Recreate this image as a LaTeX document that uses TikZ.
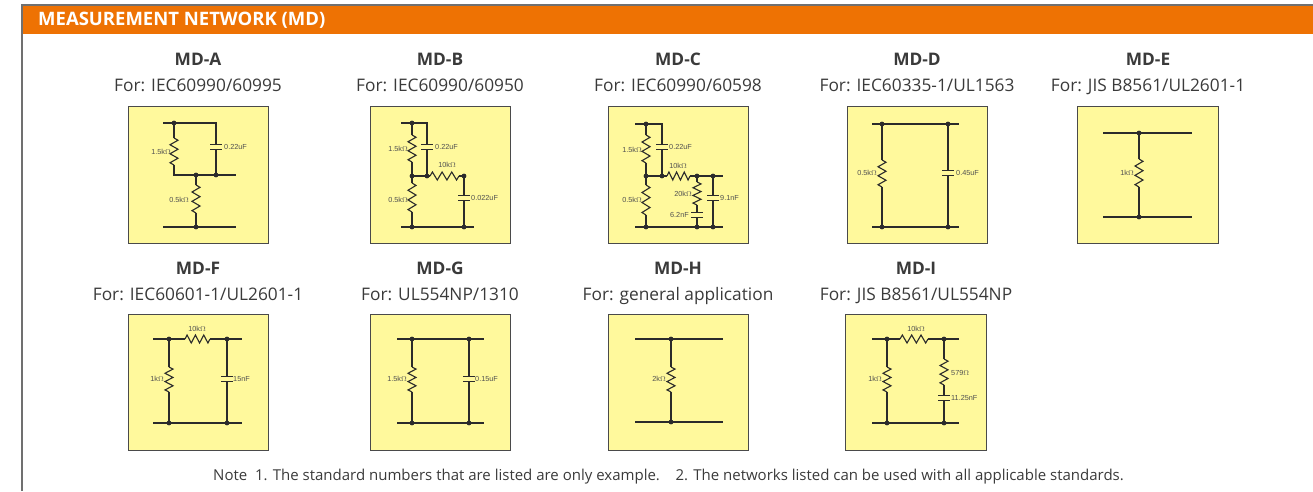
\documentclass[tikz,border=0pt]{standalone}
\usepackage{fontspec}
\setmainfont{Open Sans}
\newfontfamily\lblfont{Liberation Sans}
\usetikzlibrary{calc}
\definecolor{orangehdr}{HTML}{EE7203}
\definecolor{boxfill}{HTML}{FFF99C}
\definecolor{wirec}{HTML}{2B2B2B}
\definecolor{framec}{HTML}{707070}
\definecolor{txtc}{HTML}{3A3A3A}
\definecolor{lblc}{HTML}{505050}
\definecolor{boxline}{HTML}{4A4A4A}
\newcommand\jdots[1]{\foreach \p in {#1} {\fill[wirec] (\p) circle[radius=2.4pt];}}
\tikzset{
  wire/.style={draw=wirec,line width=1.1pt},
  pics/vres/.style={code={
    \pgfmathsetmacro\hh{#1/2}
    \pgfmathsetmacro\st{#1/12}
    \fill[boxfill] (-5,-\hh) rectangle (5,\hh);
    \draw[wire] (0,-\hh) -- (4,{-\hh+\st}) -- (-4,{-\hh+3*\st}) -- (4,{-\hh+5*\st}) -- (-4,{-\hh+7*\st}) -- (4,{-\hh+9*\st}) -- (-4,{-\hh+11*\st}) -- (0,\hh);
  }},
  pics/hres/.style={code={
    \pgfmathsetmacro\hh{#1/2}
    \pgfmathsetmacro\st{#1/12}
    \fill[boxfill] (-\hh,-5) rectangle (\hh,5);
    \draw[wire] (-\hh,0) -- ({-\hh+\st},-4) -- ({-\hh+3*\st},4) -- ({-\hh+5*\st},-4) -- ({-\hh+7*\st},4) -- ({-\hh+9*\st},-4) -- ({-\hh+11*\st},4) -- (\hh,0);
  }},
  pics/cap/.style={code={
    \fill[boxfill] (-7,-2.3) rectangle (7,2.3);
    \draw[wire] (-6,-2.3) -- (6,-2.3) (-6,2.3) -- (6,2.3);
  }},
  cbox/.style={draw=boxline,line width=0.9pt,fill=boxfill},
  ttl/.style={font=\fontsize{17.3}{20}\selectfont\bfseries,text=txtc,anchor=base,inner sep=0pt},
  sub/.style={font=\fontsize{17.3}{20}\selectfont,text=txtc,anchor=base,inner sep=0pt},
  lbl/.style={font=\lblfont\fontsize{7.3}{8}\selectfont,text=lblc,inner sep=0pt},
}
\begin{document}
\begin{tikzpicture}[x=1pt,y=-1pt]
\useasboundingbox (0,0) rectangle (1313,491);
% frame and header
\fill[orangehdr] (22,5) rectangle (1313,34);
\draw[framec,line width=1.4pt] (22,491) -- (22,5) -- (1313,5);
\node[anchor=base west,inner sep=0pt,text=white,font=\fontsize{18.5}{20}\selectfont\bfseries] (hdr) at (38,25.5) {MEASUREMENT NETWORK (MD)};

% titles row 1
\node[ttl] (tA) at (198,65.5) {MD-A};
\node[sub] (sA) at (198,91) {For: IEC60990/60995};
\node[ttl] (tB) at (440,65.5) {MD-B};
\node[sub] (sB) at (440,91) {For: IEC60990/60950};
\node[ttl] (tC) at (678,65.5) {MD-C};
\node[sub] (sC) at (678,91) {For: IEC60990/60598};
\node[ttl] (tD) at (917,65.5) {MD-D};
\node[sub] (sD) at (917,91) {For: IEC60335-1/UL1563};
\node[ttl] (tE) at (1148,65.5) {MD-E};
\node[sub] (sE) at (1148,91) {For: JIS B8561/UL2601-1};
% titles row 2
\node[ttl] (tF) at (198,274.5) {MD-F};
\node[sub] (sF) at (198,300) {For: IEC60601-1/UL2601-1};
\node[ttl] (tG) at (440,274.5) {MD-G};
\node[sub] (sG) at (440,300) {For: UL554NP/1310};
\node[ttl] (tH) at (678,274.5) {MD-H};
\node[sub] (sH) at (678,300) {For: general application};
\node[ttl] (tI) at (916,274.5) {MD-I};
\node[sub] (sI) at (916,300) {For: JIS B8561/UL554NP};

% boxes
\draw[cbox] (128,106) rectangle (268,243);
\draw[cbox] (370,106) rectangle (510,243);
\draw[cbox] (608,106) rectangle (748,243);
\draw[cbox] (847,106) rectangle (987,243);
\draw[cbox] (1077,106) rectangle (1218,243);
\draw[cbox] (128,314) rectangle (268,450);
\draw[cbox] (370,314) rectangle (510,450);
\draw[cbox] (608,314) rectangle (748,450);
\draw[cbox] (845,314) rectangle (986,450);

% ---------- MD-A ----------
\coordinate (A1) at (163,123); \coordinate (A2) at (174,123); \coordinate (A3) at (216,123);
\coordinate (A4) at (174,175); \coordinate (A5) at (196,175); \coordinate (A6) at (216,175);
\coordinate (A7) at (236,175); \coordinate (A8) at (163,227); \coordinate (A9) at (196,227);
\coordinate (A10) at (236,227);
\draw[wire] (A1) -- (A3) -- (A6);
\draw[wire] (A2) -- (A4) -- (A7);
\draw[wire] (A5) -- (A9);
\draw[wire] (A8) -- (A10);
\pic at (174,151.5) {vres=27};
\pic at (216,147) {cap};
\pic at (196,199) {vres=28};
\jdots{A2,A5,A6,A9}
\node[lbl,anchor=east] (lA1) at (171,152) {1.5k$\Omega$};
\node[lbl,anchor=west] (lA2) at (224,147) {0.22uF};
\node[lbl,anchor=east] (lA3) at (189,200) {0.5k$\Omega$};

% ---------- MD-B ----------
\coordinate (B1) at (401,123); \coordinate (B2) at (412,123); \coordinate (B3) at (427,123);
\coordinate (B4) at (412,176); \coordinate (B5) at (427,176); \coordinate (B6) at (464,176);
\coordinate (B7) at (401,227); \coordinate (B8) at (412,227); \coordinate (B9) at (464,227);
\coordinate (B10) at (474,227);
\draw[wire] (B1) -- (B3) -- (B5);
\draw[wire] (B2) -- (B8);
\draw[wire] (B4) -- (B6) -- (B9);
\draw[wire] (B7) -- (B10);
\pic at (412,148.5) {vres=27};
\pic at (427,147) {cap};
\pic at (444.5,176) {hres=29};
\pic at (464,198) {cap};
\pic at (412,197.5) {vres=29};
\jdots{B2,B4,B5,B6,B8,B9}
\node[lbl,anchor=east] (lB1) at (408,149) {1.5k$\Omega$};
\node[lbl,anchor=west] (lB2) at (435,147) {0.22uF};
\node[lbl] (lB3) at (447,165) {10k$\Omega$};
\node[lbl,anchor=east] (lB4) at (408,200) {0.5k$\Omega$};
\node[lbl,anchor=west] (lB5) at (471,198) {0.022uF};

% ---------- MD-C ----------
\coordinate (C1) at (635,124); \coordinate (C2) at (646,124); \coordinate (C3) at (662,124);
\coordinate (C4) at (646,176); \coordinate (C5) at (662,176); \coordinate (C6) at (697,176);
\coordinate (C7) at (713,176); \coordinate (C8) at (723,176); \coordinate (C9) at (635,227);
\coordinate (C10) at (646,227); \coordinate (C11) at (697,227); \coordinate (C12) at (713,227);
\coordinate (C13) at (723,227);
\draw[wire] (C1) -- (C3) -- (C5);
\draw[wire] (C2) -- (C10);
\draw[wire] (C4) -- (C8);
\draw[wire] (C6) -- (C11);
\draw[wire] (C7) -- (C12);
\draw[wire] (C9) -- (C13);
\pic at (646,149) {vres=28};
\pic at (662,147) {cap};
\pic at (678.5,176) {hres=23};
\pic at (697,193.5) {vres=23};
\pic at (697,215) {cap};
\pic at (713,198) {cap};
\pic at (646,200) {vres=30};
\jdots{C2,C4,C5,C6,C7,C10,C11,C12}
\node[lbl,anchor=east] (lC1) at (642,150) {1.5k$\Omega$};
\node[lbl,anchor=west] (lC2) at (669,147) {0.22uF};
\node[lbl] (lC3) at (678,166) {10k$\Omega$};
\node[lbl,anchor=east] (lC4) at (692,194) {20k$\Omega$};
\node[lbl,anchor=east] (lC5) at (689,215) {6.2nF};
\node[lbl,anchor=west] (lC6) at (720,198) {9.1nF};
\node[lbl,anchor=east] (lC7) at (642,200) {0.5k$\Omega$};

% ---------- MD-D ----------
\coordinate (D1) at (872,124); \coordinate (D2) at (882,124); \coordinate (D3) at (948,124);
\coordinate (D4) at (959,124); \coordinate (D5) at (872,227); \coordinate (D6) at (882,227);
\coordinate (D7) at (948,227); \coordinate (D8) at (959,227);
\draw[wire] (D1) -- (D4);
\draw[wire] (D5) -- (D8);
\draw[wire] (D2) -- (D6);
\draw[wire] (D3) -- (D7);
\pic at (882,173.5) {vres=27};
\pic at (948,173) {cap};
\jdots{D2,D3,D6,D7}
\node[lbl,anchor=east] (lD1) at (877,173) {0.5k$\Omega$};
\node[lbl,anchor=west] (lD2) at (956,173) {0.45uF};

% ---------- MD-E ----------
\coordinate (E1) at (1103,133); \coordinate (E2) at (1139,133); \coordinate (E3) at (1192,133);
\coordinate (E4) at (1103,217); \coordinate (E5) at (1139,217); \coordinate (E6) at (1192,217);
\draw[wire] (E1) -- (E3);
\draw[wire] (E4) -- (E6);
\draw[wire] (E2) -- (E5);
\pic at (1139,173) {vres=28};
\jdots{E2,E5}
\node[lbl,anchor=east] (lE1) at (1134,173) {1k$\Omega$};

% ---------- MD-F ----------
\coordinate (F1) at (153,339); \coordinate (F2) at (169,339); \coordinate (F3) at (227,339);
\coordinate (F4) at (242,339); \coordinate (F5) at (153,423); \coordinate (F6) at (169,423);
\coordinate (F7) at (227,423); \coordinate (F8) at (242,423);
\draw[wire] (F1) -- (F4);
\draw[wire] (F5) -- (F8);
\draw[wire] (F2) -- (F6);
\draw[wire] (F3) -- (F7);
\pic at (197.5,339) {hres=25};
\pic at (169,379.5) {vres=25};
\pic at (227,379) {cap};
\jdots{F2,F3,F6,F7}
\node[lbl] (lF1) at (197,329) {10k$\Omega$};
\node[lbl,anchor=east] (lF2) at (164,379) {1k$\Omega$};
\node[lbl,anchor=west] (lF3) at (233,379) {15nF};

% ---------- MD-G ----------
\coordinate (G1) at (397,339); \coordinate (G2) at (412,339); \coordinate (G3) at (469,339);
\coordinate (G4) at (484,339); \coordinate (G5) at (397,423); \coordinate (G6) at (412,423);
\coordinate (G7) at (469,423); \coordinate (G8) at (484,423);
\draw[wire] (G1) -- (G4);
\draw[wire] (G5) -- (G8);
\draw[wire] (G2) -- (G6);
\draw[wire] (G3) -- (G7);
\pic at (412,379.5) {vres=25};
\pic at (469,379) {cap};
\jdots{G2,G3,G6,G7}
\node[lbl,anchor=east] (lG1) at (407,379) {1.5k$\Omega$};
\node[lbl,anchor=west] (lG2) at (475,379) {0.15uF};

% ---------- MD-H ----------
\coordinate (H1) at (635,339); \coordinate (H2) at (671,339); \coordinate (H3) at (723,339);
\coordinate (H4) at (635,422); \coordinate (H5) at (671,422); \coordinate (H6) at (723,422);
\draw[wire] (H1) -- (H3);
\draw[wire] (H4) -- (H6);
\draw[wire] (H2) -- (H5);
\pic at (671,379.5) {vres=25};
\jdots{H2,H5}
\node[lbl,anchor=east] (lH1) at (666,379) {2k$\Omega$};

% ---------- MD-I ----------
\coordinate (I1) at (872,339); \coordinate (I2) at (887,339); \coordinate (I3) at (944,339);
\coordinate (I4) at (959,339); \coordinate (I5) at (872,423); \coordinate (I6) at (887,423);
\coordinate (I7) at (944,423); \coordinate (I8) at (959,423);
\draw[wire] (I1) -- (I4);
\draw[wire] (I5) -- (I8);
\draw[wire] (I2) -- (I6);
\draw[wire] (I3) -- (I7);
\pic at (914,339) {hres=28};
\pic at (887,379.5) {vres=25};
\pic at (944,372) {vres=26};
\pic at (944,398) {cap};
\jdots{I2,I3,I6,I7}
\node[lbl] (lI1) at (916,329) {10k$\Omega$};
\node[lbl,anchor=east] (lI2) at (882,379) {1k$\Omega$};
\node[lbl,anchor=west] (lI3) at (951,373) {579$\Omega$};
\node[lbl,anchor=west] (lI4) at (951,398) {11.25nF};

% note
\node[anchor=base west,inner sep=0pt,text=txtc,font=\fontsize{15}{17}\selectfont] (note) at (213,480) {Note\ \ 1. The standard numbers that are listed are only example.\ \ \ \ 2. The networks listed can be used with all applicable standards.};
\end{tikzpicture}
\end{document}
